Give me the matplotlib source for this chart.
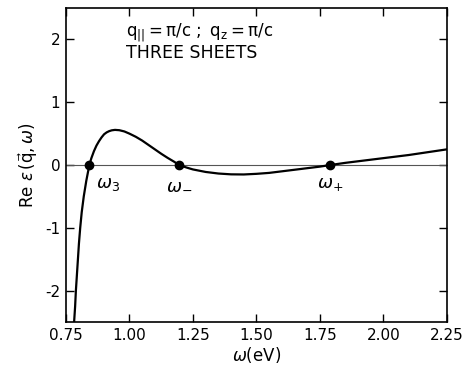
import matplotlib
matplotlib.use("Agg")
import matplotlib.pyplot as plt
import numpy as np

plt.rcParams['axes.unicode_minus'] = False

# values
omega = [0.782, 0.786, 0.789, 0.793, 0.797, 0.801, 0.806, 0.812, 0.820, 0.830, 0.842,
         0.850, 0.860, 0.870, 0.880, 0.890, 0.900, 0.910, 0.920, 0.930, 0.943, 0.960,
         0.980, 1.000, 1.025, 1.050, 1.075, 1.100, 1.125, 1.150, 1.175, 1.196, 1.225,
         1.25, 1.30, 1.35, 1.40, 1.45, 1.50, 1.55, 1.60, 1.65, 1.70, 1.75, 1.79,
         1.85, 1.90, 1.95, 2.00, 2.05, 2.10, 2.15, 2.20, 2.25]
re_eps = [-2.5, -2.25, -2.0, -1.75, -1.5, -1.25, -1.0, -0.75, -0.5, -0.25, 0.0,
          0.11, 0.22, 0.31, 0.38, 0.44, 0.49, 0.52, 0.54, 0.553, 0.56, 0.555,
          0.535, 0.50, 0.45, 0.39, 0.32, 0.25, 0.18, 0.115, 0.055, 0.0, -0.04,
          -0.07, -0.11, -0.135, -0.148, -0.15, -0.14, -0.125, -0.10, -0.075, -0.05, -0.025, 0.0,
          0.035, 0.06, 0.085, 0.11, 0.135, 0.16, 0.19, 0.22, 0.25]
roots = [0.842, 1.196, 1.79]
root_labels = [r'$\omega_3$', r'$\omega_{-}$', r'$\omega_{+}$']
xticks = [0.75, 1.00, 1.25, 1.50, 1.75, 2.00, 2.25]
yticks = [-2, -1, 0, 1, 2]

fig = plt.figure(figsize=(4.66, 3.68), dpi=100)
ax = fig.add_axes([0.1416, 0.125, 0.8174, 0.853])

ax.axhline(0, color='#555555', lw=0.8)
ax.plot(omega, re_eps, color='black', lw=1.6)
ax.plot(roots, [0] * len(roots), 'o', color='black', ms=6)

offsets = [(0.025, -0.3), (0.0, -0.3), (0.0, -0.3)]
for r, lab, (dx, dy) in zip(roots, root_labels, offsets):
    ax.text(r + dx, dy, lab, fontsize=13, ha='left' if dx else 'center', va='center')

ax.text(0.985, 2.11, r'$\mathregular{q_{||}=\pi/c\ ;\ q_z=\pi/c}$', fontsize=12, va='center')
ax.text(0.985, 1.79, 'THREE SHEETS', fontsize=12.5, va='center')

ax.set_xlim(0.75, 2.25)
ax.set_ylim(-2.5, 2.5)
ax.set_xticks(xticks)
ax.set_xticklabels(['%.2f' % t for t in xticks])
ax.set_yticks(yticks)
ax.tick_params(direction='in', top=True, right=True, length=6, width=1, labelsize=11, pad=4)
ax.set_xlabel(r'$\omega\mathregular{(eV)}$', fontsize=12, labelpad=2)
ax.set_ylabel(r'$\mathregular{Re}\ \epsilon\,(\vec{\mathregular{q}},\omega)$', fontsize=12)
for s in ax.spines.values():
    s.set_linewidth(1.2)

fig.savefig('out.png', dpi=100)
